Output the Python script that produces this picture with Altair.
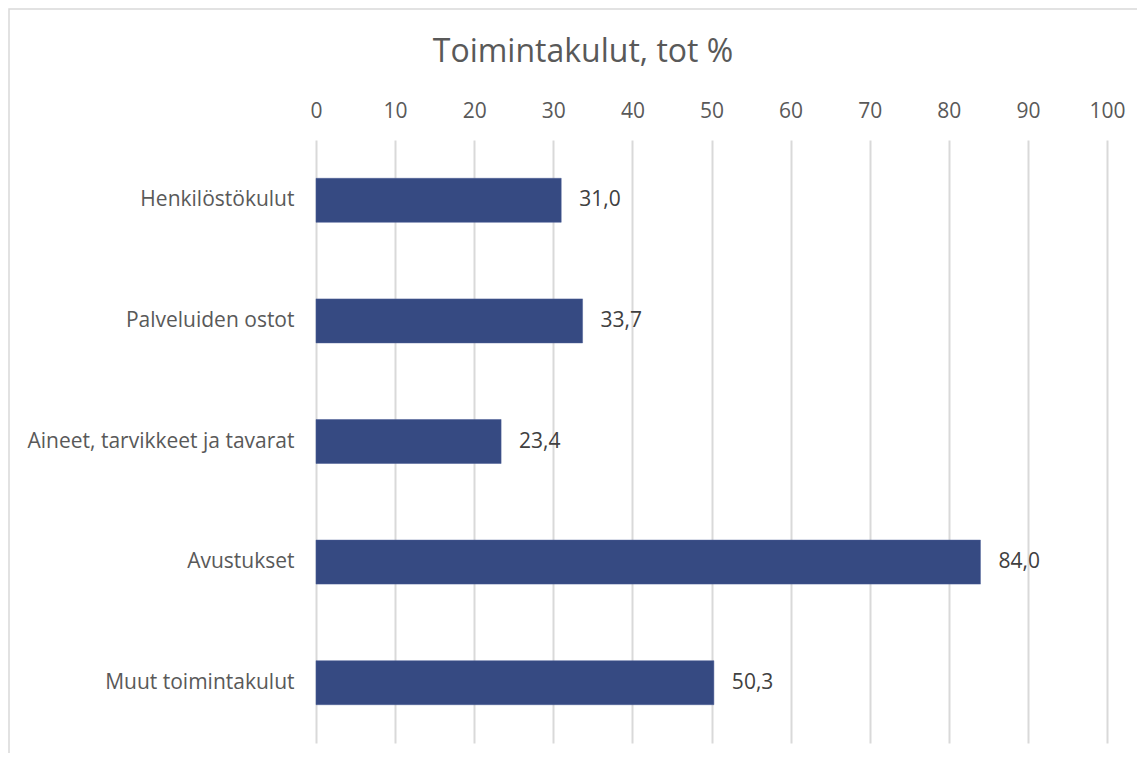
import altair as alt
import pandas as pd

categories = ["Henkilöstökulut", "Palveluiden ostot", "Aineet, tarvikkeet ja tavarat", "Avustukset", "Muut toimintakulut"]
values = [31.0, 33.7, 23.4, 84.0, 50.3]
x_ticks = [0, 10, 20, 30, 40, 50, 60, 70, 80, 90, 100]
title_text = "Toimintakulut, tot %"

df = pd.DataFrame({"kategoria": categories, "arvo": values})

FONT = "Open Sans"
TEXT = "#595959"

base = alt.Chart(df)

y_enc = alt.Y("kategoria:N", sort=categories, title=None,
              scale=alt.Scale(paddingInner=0.635, paddingOuter=0.3175),
              axis=alt.Axis(labelFont=FONT, labelFontSize=21, labelColor=TEXT,
                            labelPadding=22, ticks=False, domain=False, labelLimit=400))

bars = base.mark_bar(color="#364A82", stroke="#4a5d94", strokeWidth=0.5).encode(
    x=alt.X("arvo:Q", title=None,
            scale=alt.Scale(domain=[0, 100], nice=False),
            axis=alt.Axis(orient="top", values=x_ticks, labelFont=FONT, labelFontSize=21,
                          labelColor=TEXT, labelPadding=19, ticks=False, domain=False,
                          labelFlush=False,
                          grid=True, gridColor="#d9d9d9", gridWidth=2)),
    y=y_enc,
)

labels = base.transform_calculate(
    teksti="replace(format(datum.arvo, '.1f'), '.', ',')"
).mark_text(align="left", baseline="middle", dx=18, font=FONT, fontSize=21, color="#404040").encode(
    x="arvo:Q",
    y=alt.Y("kategoria:N", sort=categories),
    text="teksti:N",
)

title = alt.Chart(pd.DataFrame({"t": [title_text]})).mark_text(
    font=FONT, fontSize=32, color=TEXT, align="center", baseline="middle"
).encode(x=alt.value(267), y=alt.value(-88), text="t:N")

border = alt.Chart(pd.DataFrame({"a": [0]})).mark_rect(
    fill=None, stroke="#d9d9d9", strokeWidth=1.5
).encode(
    x=alt.value(-307), x2=alt.value(840), y=alt.value(-131), y2=alt.value(630)
)

chart = alt.layer(border, bars, labels, title).properties(
    width=791,
    height=603,
    autosize=alt.AutoSizeParams(type="none"),
    padding={"left": 308, "top": 132, "right": 30, "bottom": 10},
).configure_view(stroke=None)

chart.save("out.html", embed_options={"renderer": "svg", "actions": False})
